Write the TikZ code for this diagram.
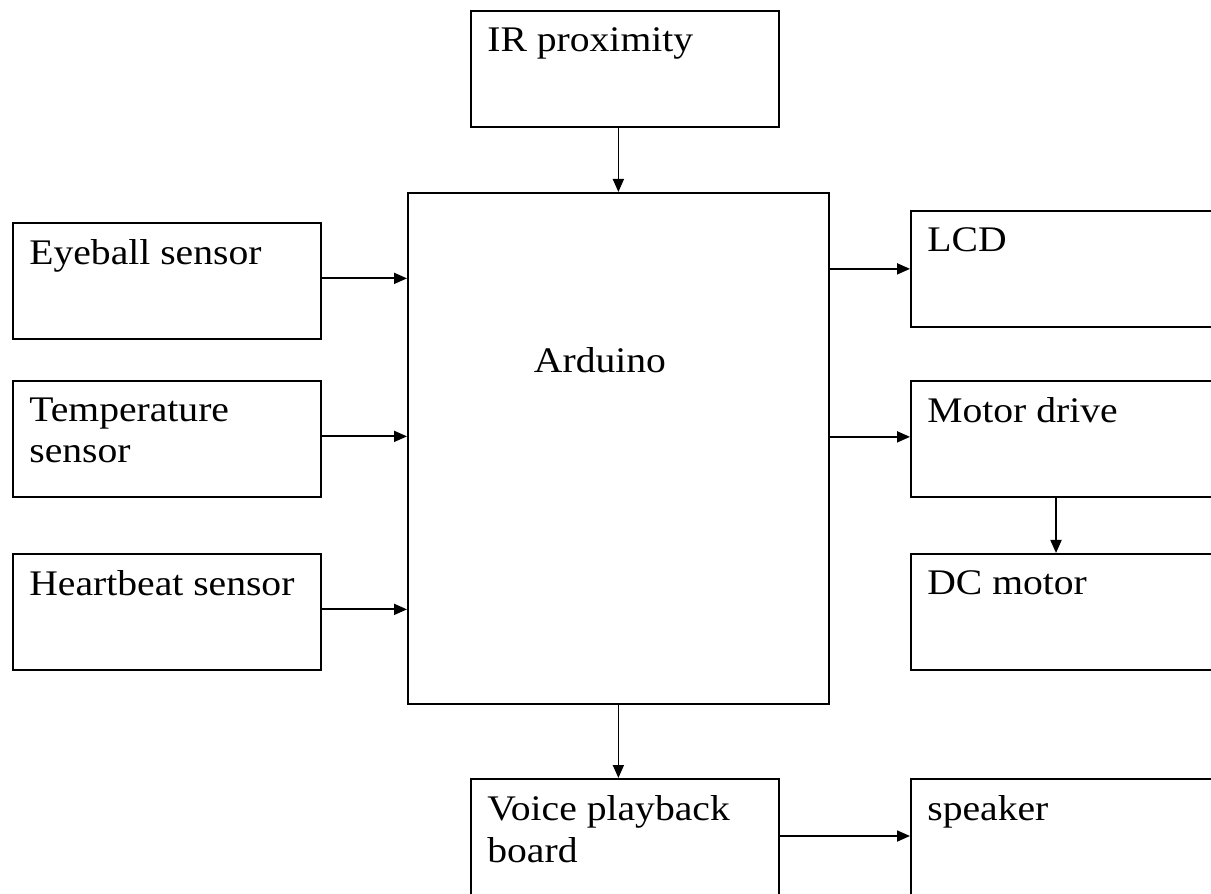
\documentclass[tikz,border=0pt]{standalone}
\usepackage{fontspec}
\setmainfont[FakeStretch=1.1]{Liberation Serif}
\usetikzlibrary{arrows.meta}

\tikzset{
  blk/.style={draw, line width=1pt, anchor=north west, minimum width=6.16cm, minimum height=2.32cm, inner sep=0pt},
  txt/.style={anchor=north west, xshift=0.34cm, yshift=-0.35cm, align=left, inner sep=0pt, font=\fontsize{20.5}{23.5}\selectfont},
  link/.style={line width=1pt, -{Triangle[length=0.26cm,width=0.22cm]}}
}

\begin{document}
\begin{tikzpicture}
\clip (0,0) rectangle (24.22,-17.88);

% top and centre
\node[blk, label={[txt]north west:IR proximity}] (ir) at (9.40,-0.20) {};
\node[blk, minimum width=8.42cm, minimum height=10.22cm] (ard) at (8.14,-3.84) {};
\node[anchor=base, inner sep=0pt, font=\fontsize{20.5}{23.5}\selectfont] (ardtxt) at (12.0,-7.46) {Arduino};

% sensors on the left
\foreach \name/\y/\txt in {eye/-4.44/{Eyeball sensor}, temp/-7.60/{Temperature\\sensor}, heart/-11.06/{Heartbeat sensor}}{
	\node[blk, label={[txt]north west:\txt}] (\name) at (0.24,\y) {};
	\draw[link] ([yshift=0.05cm]\name.east) -- ([yshift=0.05cm]\name.east -| ard.west);
	}

% outputs on the right
\node[blk, label={[txt]north west:LCD}] (lcd) at (18.20,-4.20) {};
\node[blk, label={[txt]north west:Motor drive}] (md) at (18.20,-7.60) {};
\node[blk, label={[txt]north west:DC motor}] (dc) at (18.20,-11.06) {};
\node[blk, minimum height=2.6cm, label={[txt]north west:{Voice playback\\board}}] (voice) at (9.40,-15.56) {};
\node[blk, minimum height=2.6cm, label={[txt]north west:speaker}] (spk) at (18.20,-15.56) {};

\draw[link] (ard.north |- ir.south) -- (ard.north);
\draw[link] (ard.east |- lcd.west) -- (lcd.west);
\draw[link] ([yshift=0.04cm]ard.east |- md.west) -- ([yshift=0.04cm]md.west);
\draw[link] ([xshift=2.92cm]md.south west) -- ([xshift=2.92cm]dc.north west);
\draw[link] (ard.south) -- (ard.south |- voice.north);
\draw[link] ([yshift=-1.16cm]voice.north east) -- ([yshift=-1.16cm]spk.north west);
\end{tikzpicture}
\end{document}
